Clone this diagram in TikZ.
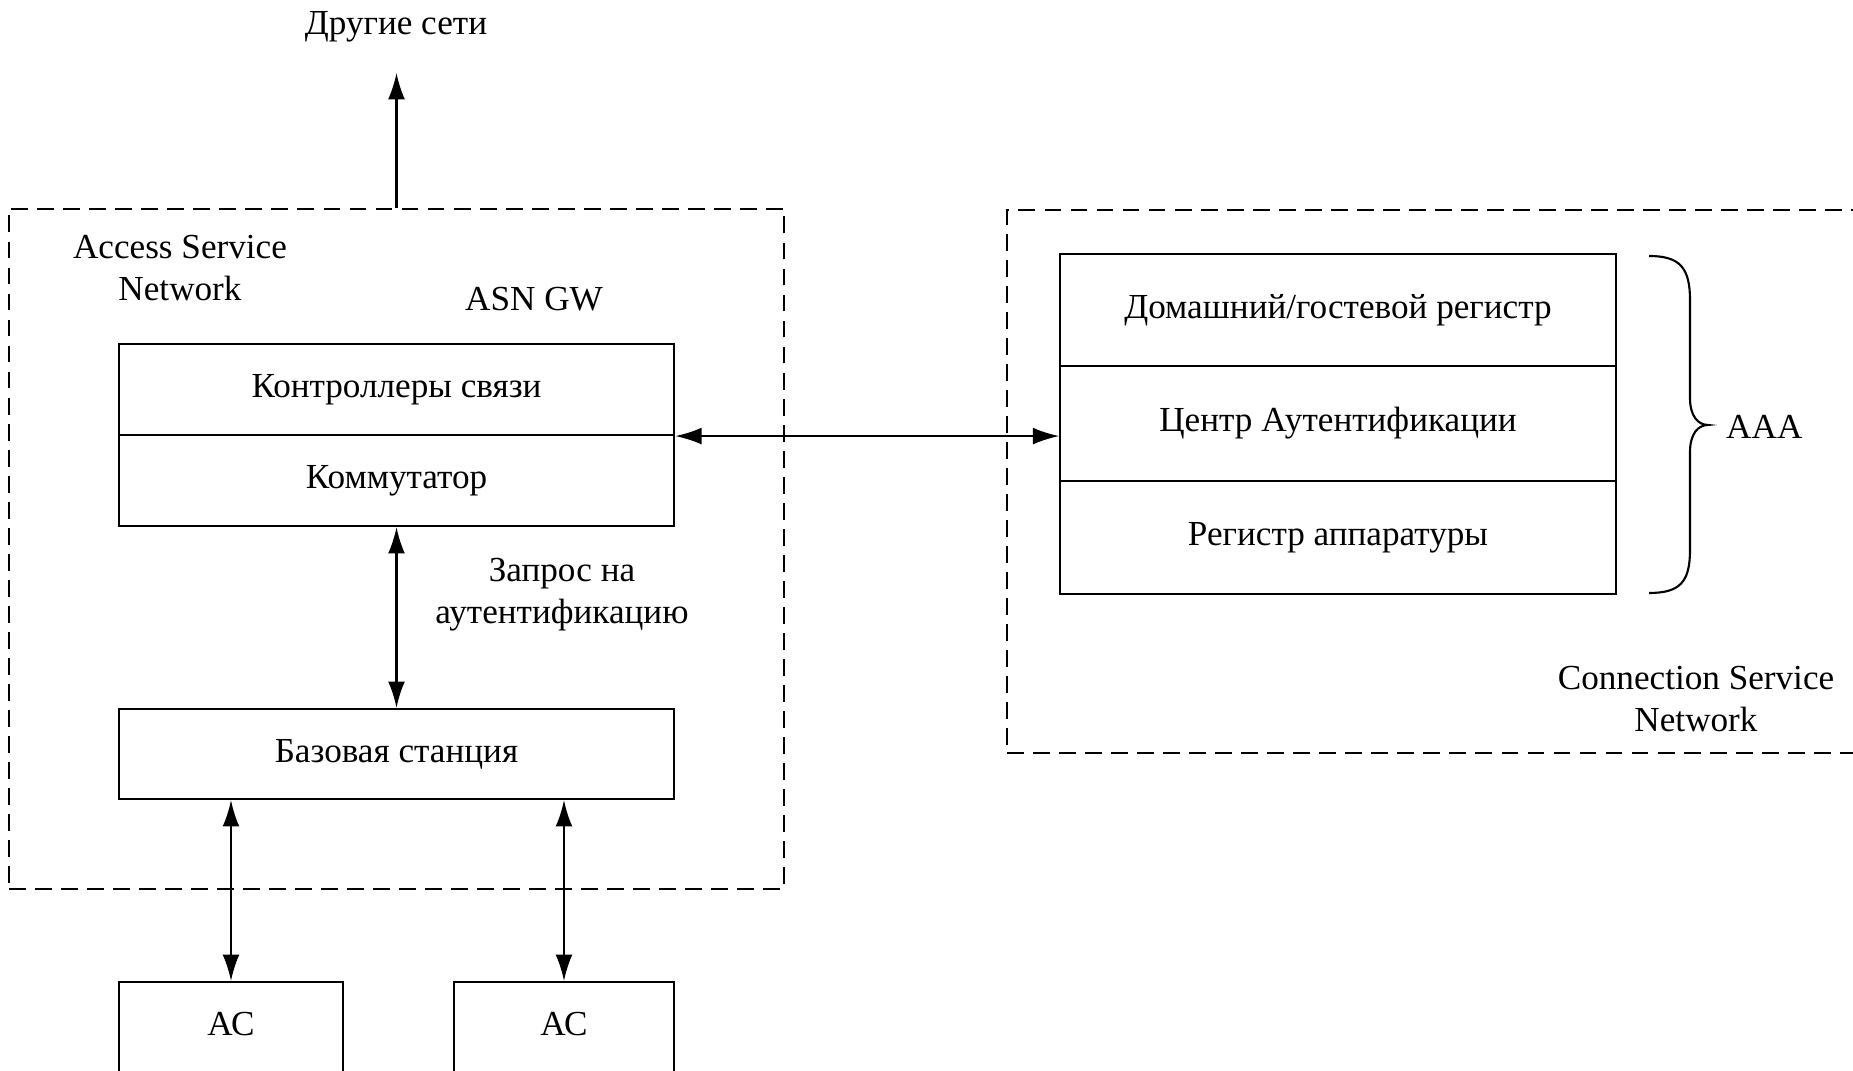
\documentclass[tikz,border=0pt]{standalone}
\usepackage{fontspec}
\setmainfont{Liberation Serif}
\usetikzlibrary{arrows.meta}

\begin{document}
\begin{tikzpicture}[
	x=0.01cm, y=-0.01cm,
	font=\fontsize{10}{12}\selectfont,
	cell/.style={
		rectangle,
		draw,
		semithick,
		minimum width=5.55cm,
		inner sep=0pt,
		align=center,
	},
	area/.style={% dashed network areas
		rectangle,
		draw,
		semithick,
		dash pattern=on 4.8pt off 2.6pt,
		inner sep=0pt,
	},
	note/.style={
		align=center,
		inner sep=1pt,
	},
	ArrowD/.style={
		semithick,
		>={Latex[length=7.5pt,width=4.8pt]},
	},
]
\useasboundingbox (0,0) rectangle (1853,1071);
\clip (0,0) rectangle (1853,1071);

% access service network
\node[area, minimum width=7.75cm, minimum height=6.8cm] (asn) at (396.5,549) {};
\node[note] (asnname) at (180,268) {Access Service\\Network};
\node[note] (gw) at (534,299) {ASN GW};
\node[cell, minimum height=0.91cm] (ctrl) at (396.5,389.5) {Контроллеры связи};
\node[cell, minimum height=0.91cm] (switch) at (396.5,480.5) {Коммутатор};
\node[cell, minimum height=0.90cm] (bs) at (396.5,754) {Базовая станция};
\node[note] (req) at (562,595) {Запрос на\\аутентификацию};

\node[note] (other) at (396,27) {Другие сети};
\coordinate (up) at (396.5,73);

% subscriber stations
\node[cell, minimum width=2.24cm, anchor=north, text height=0.53cm, text depth=0.65cm] (ac1) at (231,981) {АС};
\node[cell, minimum width=2.20cm, anchor=north, text height=0.53cm, text depth=0.65cm] (ac2) at (564,981) {АС};

% connection service network
\node[area, minimum width=9cm, minimum height=5.43cm, anchor=north west] (csn) at (1006,209) {};
\node[cell, minimum height=1.12cm] (home) at (1338,310) {Домашний/гостевой регистр};
\node[cell, minimum height=1.15cm] (auth) at (1338,423.5) {Центр Аутентификации};
\node[cell, minimum height=1.13cm] (equip) at (1338,537.5) {Регистр аппаратуры};
\node[note, anchor=west] (aaa) at (1722,427) {AAA};
\node[note] (csnname) at (1696,699) {Connection Service\\Network};

\coordinate (tip) at (1708,425);
\draw[semithick] (1649,256) .. controls (1680,256) and (1690,268) .. (1690,300)
	-- (1690,398) .. controls (1690,416) and (1698,425) .. (tip)
	.. controls (1698,425) and (1690,434) .. (1690,452)
	-- (1690,550) .. controls (1690,582) and (1680,593) .. (1649,593);

\draw[->, ArrowD] (asn.north) -- (up);
\draw[<->, ArrowD] (switch) -- (bs);
\draw[<->, ArrowD] (ctrl.south east) -- (ctrl.south east -| auth.west);
\draw[<->, ArrowD] (ac1.north) -- (ac1.north |- bs.south);
\draw[<->, ArrowD] (ac2.north) -- (ac2.north |- bs.south);

\end{tikzpicture}
\end{document}
